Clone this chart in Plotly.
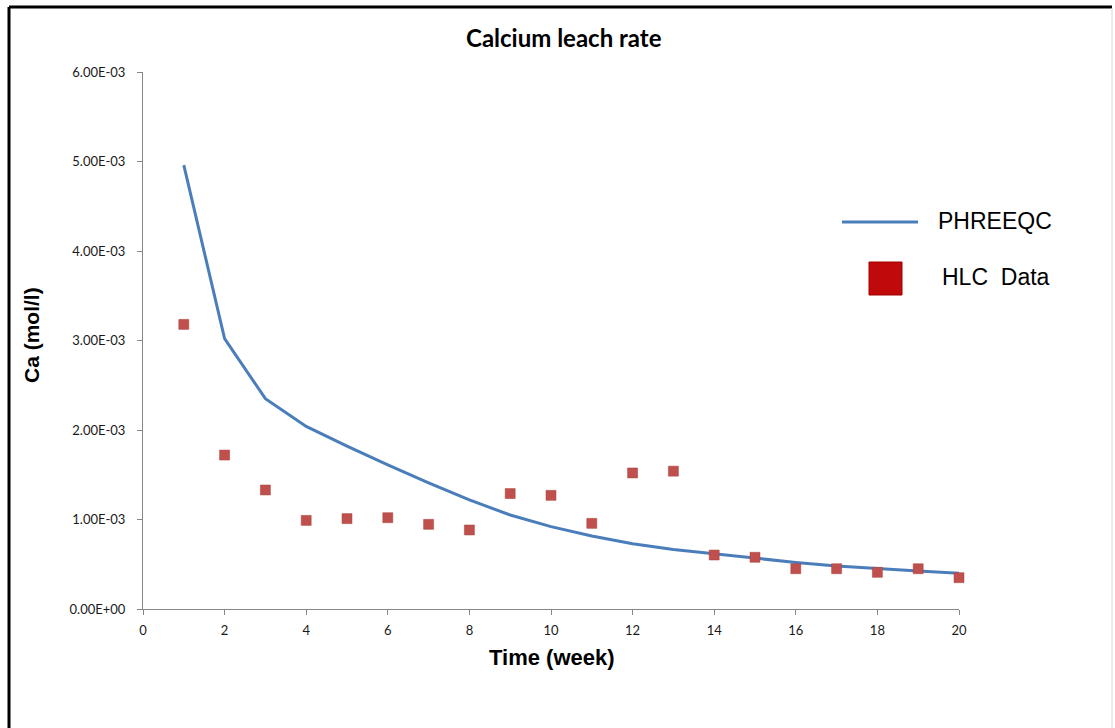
import plotly.graph_objects as go

# Weekly sampling times
weeks = list(range(1, 21))

# PHREEQC model curve (mol/l)
phreeqc_ca = [4.96e-3, 3.02e-3, 2.35e-3, 2.04e-3, 1.82e-3, 1.61e-3, 1.41e-3, 1.22e-3,
              1.05e-3, 0.92e-3, 0.815e-3, 0.73e-3, 0.665e-3, 0.614e-3, 0.566e-3,
              0.52e-3, 0.48e-3, 0.45e-3, 0.425e-3, 0.40e-3]

# Measured HLC data (mol/l)
hlc_ca = [3.18e-3, 1.72e-3, 1.33e-3, 0.99e-3, 1.01e-3, 1.02e-3, 0.946e-3, 0.883e-3,
          1.29e-3, 1.27e-3, 0.957e-3, 1.52e-3, 1.54e-3, 0.603e-3, 0.578e-3,
          0.45e-3, 0.45e-3, 0.41e-3, 0.45e-3, 0.35e-3]

x_ticks = list(range(0, 21, 2))
y_ticks = [0, 1e-3, 2e-3, 3e-3, 4e-3, 5e-3, 6e-3]
y_tick_labels = ["0.00E+00", "1.00E-03", "2.00E-03", "3.00E-03", "4.00E-03", "5.00E-03", "6.00E-03"]

LINE_BLUE = "#4A7EBB"
RED = "#C0504D"
AXIS_GRAY = "#868686"
TICK_FONT = dict(family="Lato, Open Sans, sans-serif", size=13, color="#1a1a1a")

# plot-area geometry in pixels (used to place free text and legend glyphs)
L, T, W, H = 143, 72, 816, 537
def px(xp):
    return (xp - L) / W
def py(yp):
    return (T + H - yp) / H

fig = go.Figure()
fig.add_trace(go.Scatter(
    x=weeks, y=phreeqc_ca, mode="lines", name="PHREEQC",
    line=dict(color=LINE_BLUE, width=3),
))
fig.add_trace(go.Scatter(
    x=weeks, y=hlc_ca, mode="markers", name="HLC Data", cliponaxis=False,
    marker=dict(symbol="square", size=10, color=RED, line=dict(color="#A9403D", width=0.5)),
))

fig.update_layout(
    width=1115, height=728,
    margin=dict(l=L, r=1115 - L - W, t=T, b=728 - T - H),
    paper_bgcolor="white", plot_bgcolor="white",
    showlegend=False,
    xaxis=dict(
        range=[0, 20], tickvals=x_ticks, showgrid=False, zeroline=False,
        showline=True, linecolor=AXIS_GRAY, linewidth=1,
        ticks="outside", ticklen=5, tickcolor=AXIS_GRAY, tickfont=TICK_FONT,
        ticklabelstandoff=4,
    ),
    yaxis=dict(
        range=[0, 0.006], tickvals=y_ticks, ticktext=y_tick_labels,
        showgrid=False, zeroline=False,
        showline=True, linecolor=AXIS_GRAY, linewidth=1,
        ticks="outside", ticklen=5, tickcolor=AXIS_GRAY, tickfont=TICK_FONT,
        ticklabelstandoff=9,
    ),
)

annotations = [
    dict(text="<b>Calcium leach rate</b>", x=px(564), y=py(38), xref="paper", yref="paper",
         showarrow=False, font=dict(family="Lato, Open Sans, sans-serif", size=24, color="black"),
         xanchor="center", yanchor="middle"),
    dict(text="<b>Time (week)</b>", x=px(552), y=py(657), xref="paper", yref="paper",
         showarrow=False, font=dict(family="Liberation Sans, Arial, sans-serif", size=22, color="black"),
         xanchor="center", yanchor="middle"),
    dict(text="<b>Ca (mol/l)</b>", x=px(31), y=py(335), xref="paper", yref="paper",
         showarrow=False, textangle=-90,
         font=dict(family="Liberation Sans, Arial, sans-serif", size=21, color="black"),
         xanchor="center", yanchor="middle"),
    # legend labels
    dict(text="PHREEQC", x=px(936), y=py(221), xref="paper", yref="paper",
         showarrow=False, font=dict(family="Liberation Sans, Arial, sans-serif", size=23, color="black"),
         xanchor="left", yanchor="middle"),
    dict(text="HLC  Data", x=px(940), y=py(277), xref="paper", yref="paper",
         showarrow=False, font=dict(family="Liberation Sans, Arial, sans-serif", size=23, color="black"),
         xanchor="left", yanchor="middle"),
]
fig.update_layout(annotations=annotations)

shapes = [
    # legend glyphs
    dict(type="line", xref="paper", yref="paper",
         x0=px(842), x1=px(918), y0=py(222), y1=py(222),
         line=dict(color=LINE_BLUE, width=3)),
    dict(type="rect", xref="paper", yref="paper",
         x0=px(869), x1=px(902), y0=py(295), y1=py(262),
         fillcolor="#C0090B", line=dict(color="#A00000", width=1)),
    # outer chart frame
    dict(type="line", xref="paper", yref="paper",
         x0=px(9), x1=px(1112), y0=py(7), y1=py(7),
         line=dict(color="black", width=3)),
    dict(type="line", xref="paper", yref="paper",
         x0=px(9), x1=px(9), y0=py(7), y1=py(730),
         line=dict(color="black", width=3)),
    dict(type="line", xref="paper", yref="paper",
         x0=px(1112), x1=px(1112), y0=py(8), y1=py(730),
         line=dict(color="#D8D8D8", width=1)),
]
fig.update_layout(shapes=shapes)

fig.write_html("out.html")
